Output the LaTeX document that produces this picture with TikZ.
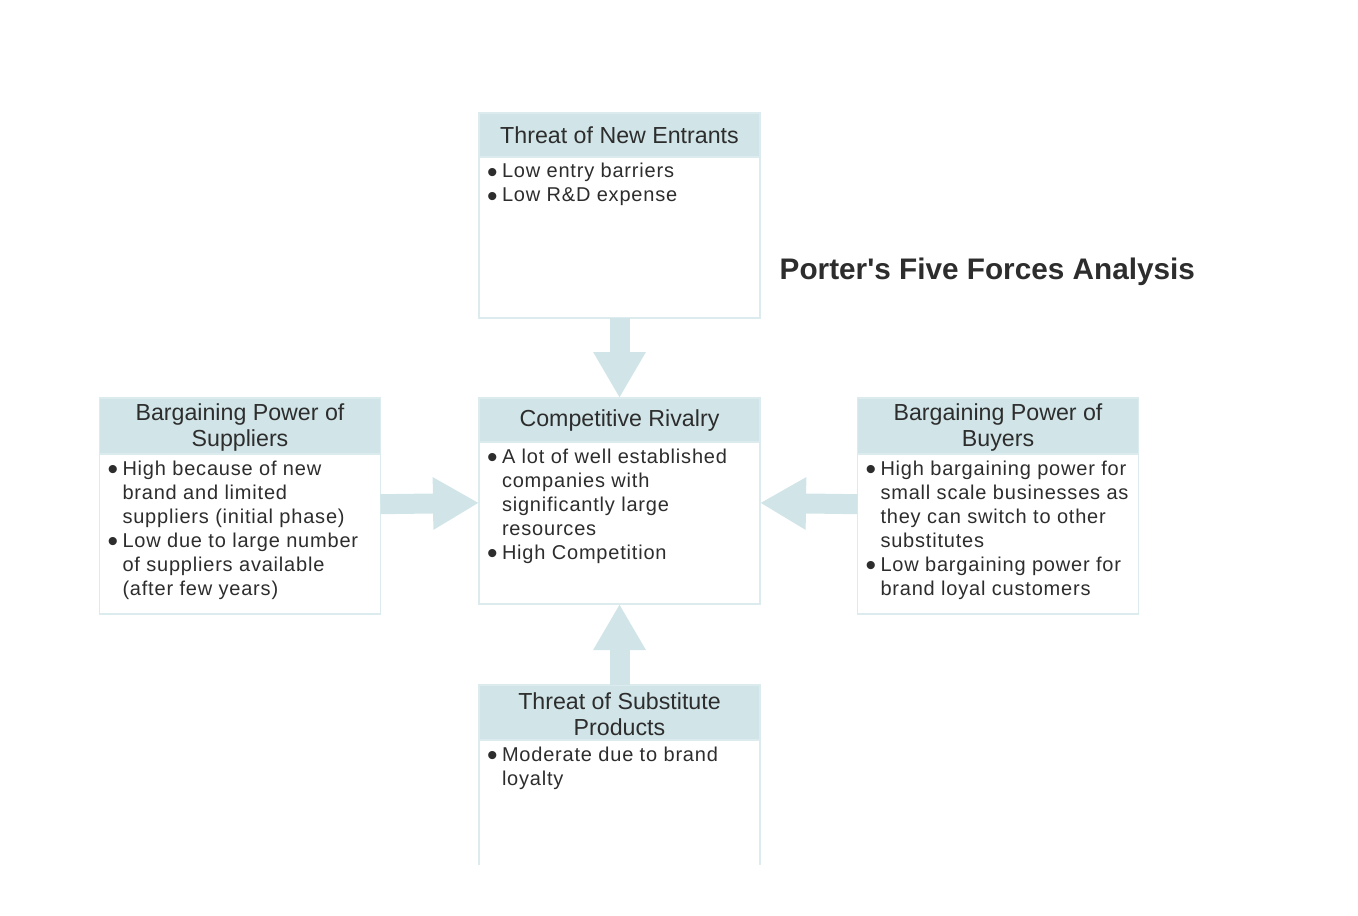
\documentclass[tikz,border=0pt]{standalone}
\usepackage{fontspec}
\setmainfont{Liberation Sans}
\usetikzlibrary{arrows.meta,positioning,fit}
\definecolor{hdrBlue}{RGB}{209,229,232}
\definecolor{edgeBlue}{RGB}{220,236,238}
\definecolor{txtG}{RGB}{45,45,45}
\newfontfamily\bdfam[LetterSpace=4]{Liberation Sans}
\newfontfamily\hdfam{Liberation Sans}
\newcommand{\bodyfont}{\bdfam\fontsize{15pt}{18pt}\selectfont}
\newcommand{\hdfont}{\hdfam\fontsize{17.4pt}{19.5pt}\selectfont}
\newcommand{\blt}{\makebox[11.25pt][l]{\smash{\raisebox{-3.2pt}{\scalebox{1.5}{\textbullet}}}}}
\newcommand{\ind}{\hspace*{11.25pt}}
\newcommand{\bdtext}[2]{\parbox[t][#1][t]{198.75pt}{\rule{0pt}{15.75pt}#2}}

\begin{document}
\begin{tikzpicture}[x=0.75pt,y=-0.75pt,font=\bodyfont]
  \tikzset{
    hd/.style={draw=edgeBlue,line width=1.2pt,fill=hdrBlue,minimum width=210.75pt,minimum height=#1,anchor=north,align=center,inner sep=2pt,outer sep=0pt,text=txtG,font=\hdfont},
    bd/.style={draw=edgeBlue,line width=1.2pt,fill=white,minimum width=210.75pt,inner xsep=6pt,inner ysep=0pt,outer sep=0pt,text=txtG},
    whole/.style={fit=#1,inner sep=0pt,outer sep=0pt},
    fatArr/.style={draw=hdrBlue,line width=15pt,-{Triangle[length=34.5pt,width=37pt]}}
  }
  \useasboundingbox (0,0) rectangle (1358,916);

  % threat of new entrants
  \node[hd=33pt] (entHd) at (619.5,113) {Threat of New Entrants};
  \node[bd,below=0pt of entHd] (entBd) {\bdtext{120.75pt}{\blt Low entry barriers\\ \blt Low R\&D expense}};
  \node[whole={(entHd)(entBd)}] (ent) {};

  % competitive rivalry
  \node[hd=33pt] (rivHd) at (619.5,398) {\raisebox{-1.5pt}{Competitive Rivalry}};
  \node[bd,below=0pt of rivHd] (rivBd) {\bdtext{121.5pt}{\blt A lot of well established\\ \ind companies with\\ \ind significantly large\\ \ind resources\\ \blt High Competition}};
  \node[whole={(rivHd)(rivBd)}] (riv) {};

  % suppliers
  \node[hd=41.25pt] (supHd) at (240,398) {\rule{0pt}{15pt}Bargaining Power of\\ Suppliers};
  \node[bd,below=0pt of supHd] (supBd) {\bdtext{120pt}{\blt High because of new\\ \ind brand and limited\\ \ind suppliers (initial phase)\\ \blt Low due to large number\\ \ind of suppliers available\\ \ind (after few years)}};
  \node[whole={(supHd)(supBd)}] (sup) {};

  % buyers
  \node[hd=41.25pt] (buyHd) at (998,398) {\rule{0pt}{15pt}Bargaining Power of\\ Buyers};
  \node[bd,below=0pt of buyHd] (buyBd) {\bdtext{120pt}{\blt High bargaining power for\\ \ind small scale businesses as\\ \ind they can switch to other\\ \ind substitutes\\ \blt Low bargaining power for\\ \ind brand loyal customers}};
  \node[whole={(buyHd)(buyBd)}] (buy) {};

  % substitutes (runs off the page)
  \begin{scope}
    \clip (0,0) rectangle (1358,864);
    \node[hd=41.25pt] (subHd) at (619.5,685) {\rule{0pt}{15pt}Threat of Substitute\\ Products};
    \node[bd,below=0pt of subHd] (subBd) {\bdtext{120pt}{\blt Moderate due to brand\\ \ind loyalty}};
    \node[whole={(subHd)(subBd)}] (sub) {};
  \end{scope}

  \node[anchor=west,text=txtG,font=\bfseries\fontsize{22.3pt}{26pt}\selectfont] (title) at (775,272) {Porter\textquotesingle s Five Forces Analysis};

  \foreach \a/\b in {ent/riv,sup/riv,buy/riv,sub/riv} {
    \draw[fatArr] (\a) -- (\b);
  }
\end{tikzpicture}
\end{document}
